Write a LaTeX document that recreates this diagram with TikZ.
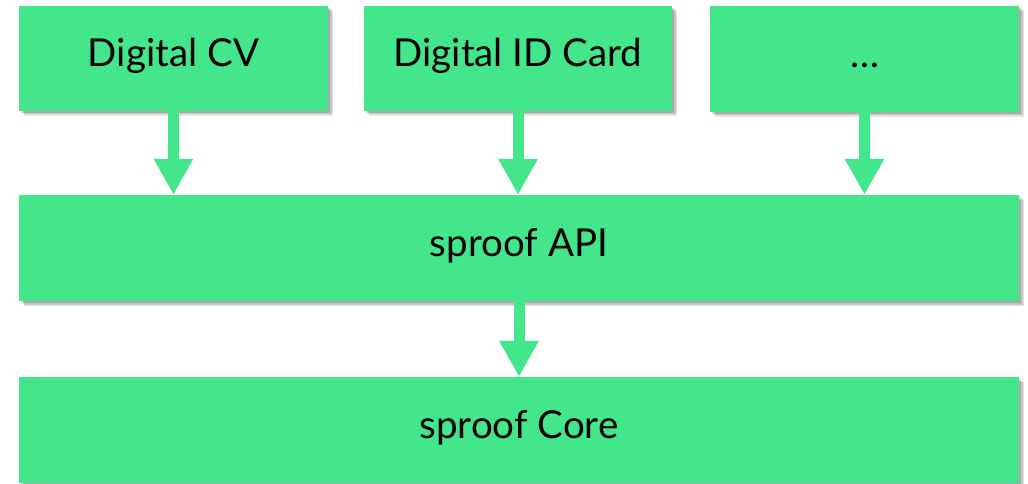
\documentclass[tikz,border=0pt]{standalone}
\usepackage{fontspec}
\setmainfont{Lato}
\usetikzlibrary{arrows.meta,shadows}

\definecolor{sproofgreen}{RGB}{68,230,140}

\begin{document}
\begin{tikzpicture}[x=1pt, y=1pt, line cap=butt]

% ---------------------------
% Canvas and styles
% ---------------------------
\useasboundingbox (0,0) rectangle (1028,483);
\clip (0,0) rectangle (1028,483);

\tikzset{
  layer/.style={
    fill=sproofgreen, draw=none, inner sep=0pt,
    font=\fontsize{38.5}{42}\selectfont,
    text height=27pt, text depth=10pt,
    drop shadow={shadow xshift=5pt, shadow yshift=-5pt,
                 fill=black, opacity=0.10},
    drop shadow={shadow xshift=3.5pt, shadow yshift=-3.5pt,
                 fill=black, opacity=0.14},
    drop shadow={shadow xshift=2pt, shadow yshift=-2pt,
                 fill=black, opacity=0.14}
  },
  feed/.style={
    draw=sproofgreen, line width=11pt,
    -{Triangle[length=36pt, width=37pt]}
  }
}

% ---------------------------
% Applications on top
% ---------------------------
\node[layer, minimum width=309pt, minimum height=105pt] (cv)   at (173.5,424.5) {Digital CV};
\node[layer, minimum width=308pt, minimum height=105pt] (id)   at (518,424.5)   {Digital ID Card};
\node[layer, minimum width=309pt, minimum height=106pt] (more) at (864.5,424)   {…};

% ---------------------------
% Shared layers
% ---------------------------
\node[layer, minimum width=1000pt, minimum height=106pt] (api)  at (519,235) {sproof API};
\node[layer, minimum width=1000pt, minimum height=106pt] (core) at (519,53)  {sproof Core};

% ---------------------------
% Arrows down into the API and the core
% ---------------------------
\draw[feed] (cv.south)   -- (cv.south |- api.north);
\draw[feed] (id.south)   -- (id.south |- api.north);
\draw[feed] (more.south) -- (more.south |- api.north);
\draw[feed] (api.south)  -- (core.north);

\end{tikzpicture}
\end{document}
